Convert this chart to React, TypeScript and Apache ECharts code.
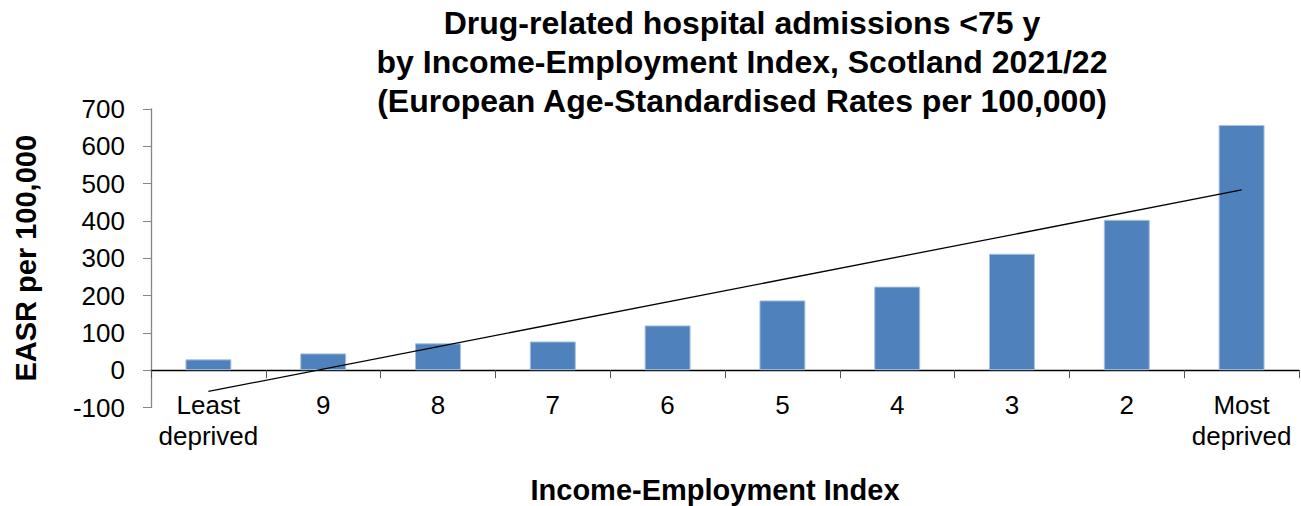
import React, { useEffect, useRef } from "react";
import * as echarts from "echarts";

const categories = ["Least\ndeprived", "9", "8", "7", "6", "5", "4", "3", "2", "Most\ndeprived"];
const rates = [29, 45, 72, 77, 120, 187, 224, 312, 403, 657];
// Linear trend line end points
const trendLine = [-57, null, null, null, null, null, null, null, null, 483];
const yTicks = { min: -100, max: 700, interval: 100 };

const titleText =
  "Drug-related hospital admissions <75 y\nby Income-Employment Index, Scotland 2021/22\n(European Age-Standardised Rates per 100,000)";

export default function App() {
  const ref = useRef<HTMLDivElement>(null);
  useEffect(() => {
    if (!ref.current) return;
    const chart = echarts.init(ref.current, undefined, { renderer: "svg" });
    const font = "'Liberation Sans', Arial, sans-serif";
    chart.setOption({
      animation: false,
      backgroundColor: "#ffffff",
      textStyle: { fontFamily: font },
      title: {
        text: titleText,
        left: 737,
        top: -2,
        textAlign: "center",
        textStyle: {
          fontFamily: font,
          fontSize: 32,
          fontWeight: "bold",
          color: "#000",
          lineHeight: 39,
        },
      },
      grid: {
        left: 151,
        right: 2,
        top: 109,
        bottom: 98.5,
        containLabel: false,
        outerBoundsMode: "none",
      },
      xAxis: {
        type: "category",
        data: categories,
        name: "Income-Employment Index",
        nameLocation: "middle",
        nameGap: 68,
        nameTextStyle: {
          fontFamily: font,
          fontSize: 29,
          fontWeight: "bold",
          color: "#000",
          padding: [0, 20, 0, 0],
        },
        axisLine: { show: true, onZero: true, lineStyle: { color: "#000", width: 1.3 } },
        axisTick: { show: true, length: 8, lineStyle: { color: "#555" } },
        axisLabel: {
          fontFamily: font,
          fontSize: 26,
          color: "#000",
          margin: -18,
          lineHeight: 31,
          interval: 0,
        },
        splitLine: { show: false },
      },
      yAxis: {
        type: "value",
        min: yTicks.min,
        max: yTicks.max,
        interval: yTicks.interval,
        name: "EASR per 100,000",
        nameLocation: "middle",
        nameRotate: 90,
        nameGap: 111,
        nameTextStyle: {
          fontFamily: font,
          fontSize: 29,
          fontWeight: "bold",
          color: "#000",
        },
        axisLine: { show: true, lineStyle: { color: "#868686", width: 1.3 } },
        axisTick: { show: true, length: 8, lineStyle: { color: "#868686" } },
        axisLabel: { fontFamily: font, fontSize: 26, color: "#000", margin: 26 },
        splitLine: { show: false },
      },
      series: [
        {
          type: "bar",
          data: rates,
          barWidth: "40%",
          itemStyle: { color: "#4f81bd", borderColor: "#a7c0de", borderWidth: 1 },
        },
        {
          type: "line",
          data: trendLine,
          connectNulls: true,
          symbol: "none",
          lineStyle: { color: "#000", width: 1.3 },
          z: 5,
        },
      ],
    });
    return () => chart.dispose();
  }, []);
  return (
    <div
      ref={ref}
      style={{ position: "fixed", left: 0, top: 0, width: 1301, height: 506 }}
    />
  );
}
